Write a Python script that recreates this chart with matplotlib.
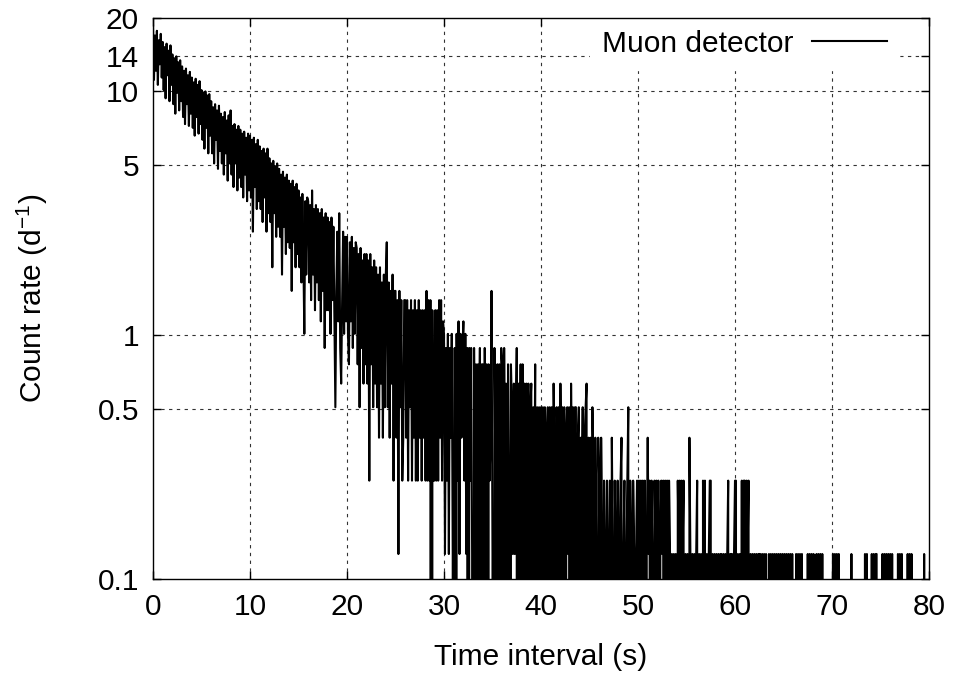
import numpy as np
import matplotlib
matplotlib.use("Agg")
import matplotlib.pyplot as plt
from matplotlib.ticker import FixedLocator, NullLocator

plt.rcParams['font.family'] = ['Liberation Sans', 'DejaVu Sans']
plt.rcParams['mathtext.fontset'] = 'custom'
plt.rcParams['mathtext.rm'] = 'Liberation Sans'
plt.rcParams['mathtext.it'] = 'Liberation Sans'

# histogram of time intervals, 0.1 s bins, raw counts per bin
bin_width = 0.1
count_unit = 0.1266   # rate of one count (d^-1)

counts_00_10 = [
    147, 88, 134, 96, 140, 84, 128, 102, 136, 90,
    126, 80, 120, 74, 124, 92, 116, 72, 122, 84,
    112, 70, 108, 64, 110, 78, 104, 66, 106, 72,
    100, 62, 96, 58, 98, 70, 92, 57, 95, 64,
    90, 56, 86, 52, 89, 62, 84, 53, 87, 58,
    80, 50, 78, 46, 79, 56, 76, 44, 77, 52,
    72, 44, 68, 40, 70, 50, 66, 38, 69, 45,
    64, 40, 62, 36, 65, 44, 60, 34, 63, 40,
    66, 36, 57, 32, 58, 40, 55, 31, 57, 35,
    55, 32, 53, 29, 54, 36, 51, 28, 53, 31,
]
counts_10_20 = [
    52, 29, 50, 21, 51, 32, 48, 26, 50, 28,
    47, 26, 45, 23, 46, 29, 44, 21, 46, 25,
    42, 23, 40, 15, 41, 25, 39, 20, 40, 22,
    38, 20, 36, 14, 37, 22, 35, 17, 36, 19,
    34, 18, 33, 12, 34, 19, 32, 15, 33, 17,
    31, 15, 29, 13, 30, 17, 8, 28, 14, 29,
    28, 13, 27, 11, 31, 14, 26, 10, 27, 13,
    26, 11, 25, 9, 26, 12, 24, 7, 25, 10,
    24, 10, 23, 8, 24, 11, 22, 9, 4, 12,
    21, 9, 25, 7, 5, 11, 21, 8, 20, 9,
]
counts_20_30 = [
    20, 8, 6, 19, 9, 20, 7, 18, 8, 19,
    18, 6, 17, 4, 18, 7, 16, 5, 17, 6,
    17, 5, 16, 2, 17, 6, 15, 4, 16, 5,
    15, 4, 14, 3, 15, 5, 13, 3, 14, 4,
    14, 19, 4, 13, 3, 12, 5, 14, 2, 12,
    12, 3, 11, 1, 12, 4, 11, 2, 3, 11,
    11, 3, 11, 2, 10, 4, 11, 2, 10, 3,
    11, 2, 10, 2, 11, 3, 10, 2, 10, 3,
    10, 2, 12, 2, 11, 2, 11, 0, 10, 2,
    2, 10, 2, 10, 2, 11, 3, 11, 2, 9,
]
counts_30_40 = [
    8, 1, 7, 2, 8, 1, 7, 3, 8, 1,
    0, 7, 0, 8, 2, 9, 1, 8, 3, 7,
    9, 2, 8, 1, 7, 0, 7, 2, 7, 1,
    0, 7, 1, 6, 0, 6, 2, 7, 0, 6,
    6, 0, 7, 1, 6, 0, 6, 2, 3, 12,
    1, 0, 7, 2, 0, 6, 1, 6, 0, 7,
    6, 0, 7, 1, 5, 0, 6, 2, 0, 6,
    4, 1, 5, 1, 3, 7, 0, 5, 1, 6,
    0, 6, 1, 5, 0, 5, 2, 5, 0, 4,
    5, 0, 4, 1, 6, 0, 4, 1, 4, 0,
]
counts_40_50 = [
    4, 0, 4, 1, 4, 0, 3, 4, 0, 4,
    1, 4, 0, 5, 2, 0, 4, 1, 4, 0,
    5, 1, 4, 0, 4, 0, 3, 4, 1, 4,
    0, 5, 1, 4, 0, 4, 4, 0, 3, 4,
    0, 3, 1, 4, 0, 3, 4, 5, 0, 3,
    1, 3, 0, 4, 2, 0, 3, 1, 0, 3,
    2, 0, 3, 1, 0, 2, 1, 0, 2, 0,
    1, 2, 0, 3, 1, 0, 2, 1, 0, 2,
    0, 1, 2, 3, 0, 1, 2, 0, 1, 2,
    4, 0, 2, 1, 0, 2, 1, 0, 1, 2,
]
counts_50_60 = [
    0, 2, 1, 2, 0, 2, 1, 2, 0, 1,
    3, 1, 2, 0, 2, 1, 0, 2, 1, 2,
    0, 2, 0, 1, 2, 1, 2, 0, 2, 1,
    2, 0, 2, 1, 0, 1, 0, 1, 0, 1,
    0, 2, 1, 2, 0, 2, 1, 2, 0, 1,
    0, 1, 0, 3, 1, 0, 1, 0, 1, 0,
    1, 2, 0, 1, 0, 1, 0, 2, 1, 2,
    0, 1, 0, 1, 2, 2, 0, 1, 0, 1,
    0, 1, 0, 1, 0, 1, 1, 0, 1, 0,
    1, 0, 1, 2, 0, 1, 1, 1, 0, 1,
]
counts_60_70 = [
    2, 2, 0, 1, 0, 1, 0, 2, 0, 2,
    2, 0, 2, 1, 2, 0, 1, 0, 1, 0,
    1, 0, 1, 0, 1, 1, 1, 0, 1, 0,
    1, 0, 1, 0, 0, 1, 0, 1, 0, 1,
    0, 1, 0, 1, 0, 1, 0, 1, 0, 1,
    0, 1, 0, 1, 0, 1, 0, 1, 0, 1,
    0, 0, 0, 1, 0, 1, 0, 1, 0, 1,
    0, 0, 0, 0, 0, 1, 0, 1, 0, 1,
    0, 1, 0, 0, 1, 0, 1, 0, 1, 0,
    1, 0, 0, 0, 0, 0, 0, 0, 0, 0,
]
counts_70_80 = [
    0, 1, 0, 1, 0, 1, 0, 1, 0, 0,
    0, 0, 0, 0, 0, 0, 0, 0, 0, 0,
    1, 0, 0, 0, 0, 0, 0, 0, 0, 0,
    0, 0, 0, 0, 1, 0, 1, 0, 0, 0,
    0, 1, 0, 1, 0, 1, 1, 0, 0, 0,
    0, 0, 1, 0, 1, 0, 1, 0, 1, 0,
    1, 0, 1, 0, 0, 0, 0, 0, 1, 0,
    1, 0, 1, 0, 0, 0, 0, 0, 1, 0,
    1, 0, 1, 0, 0, 0, 0, 0, 0, 0,
    0, 0, 0, 0, 0, 1, 0, 0, 0, 0,
]

y_ticks = [0.1, 0.5, 1, 5, 10, 14, 20]
y_tick_labels = ['0.1', '0.5', '1', '5', '10', '14', '20']
x_ticks = [0, 10, 20, 30, 40, 50, 60, 70, 80]

counts = np.array(counts_00_10 + counts_10_20 + counts_20_30 + counts_30_40 +
                  counts_40_50 + counts_50_60 + counts_60_70 + counts_70_80)
t = np.arange(len(counts)) * bin_width
rate = counts * count_unit

fig = plt.figure(figsize=(9.56, 6.75), dpi=100)
ax = fig.add_axes([153 / 956, 1 - 579 / 675, 776 / 956, 561 / 675])

ax.set_yscale('log', nonpositive='clip')
ax.plot(t, rate, color='black', lw=1.5, label='Muon detector', zorder=1.5)

ax.set_xlim(0, 80)
ax.set_ylim(0.1, 20)
ax.xaxis.set_major_locator(FixedLocator(x_ticks))
ax.yaxis.set_major_locator(FixedLocator(y_ticks))
ax.yaxis.set_minor_locator(NullLocator())
ax.set_yticklabels(y_tick_labels)

# dashed grid at the tick positions, kept under the legend box
grid_style = dict(color='#333333', ls=(0, (3, 4)), lw=0.8, zorder=1)
for xv in x_ticks[1:-1]:
    ax.axvline(xv, **grid_style)
for yv in y_ticks[1:-1]:
    ax.axhline(yv, **grid_style)

ax.tick_params(direction='in', length=6, width=1, top=True, right=True,
               labelsize=21.5, pad=10)
for s in ax.spines.values():
    s.set_linewidth(1.0)

ax.set_xlabel('Time interval (s)', fontsize=21.5, labelpad=16)
ax.set_ylabel('Count rate (d$^{-1}$)', fontsize=21.5, labelpad=34)

leg = ax.legend(loc='upper right', bbox_to_anchor=(749 / 776, 1 + 3 / 561),
                markerfirst=False, fontsize=21.5,
                handlelength=2.5, handletextpad=0.65, borderaxespad=0.1,
                fancybox=False, framealpha=1, edgecolor='white')
leg.set_zorder(2)

fig.savefig('out.png', dpi=100)
